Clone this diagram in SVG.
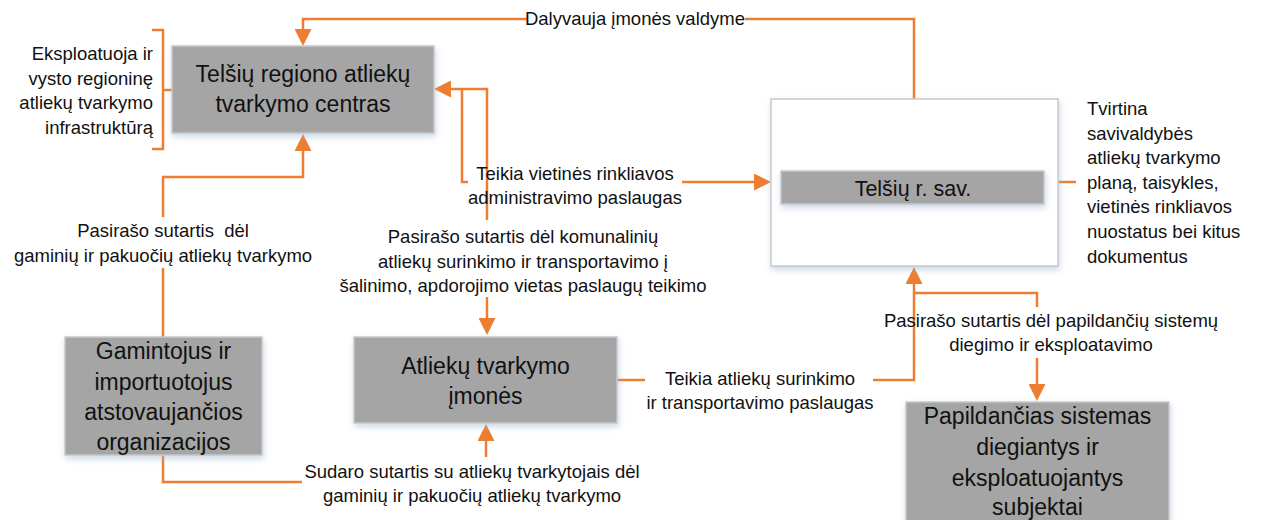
<svg xmlns="http://www.w3.org/2000/svg" width="1261" height="520" viewBox="0 0 1261 520">
<defs>
<style>
.box{fill:#a5a5a5;stroke:#c9c9c9;stroke-width:1.5;filter:url(#sh)}
.wbox{fill:#ffffff;stroke:#c9c9c9;stroke-width:1.5;filter:url(#sh)}
.t{font-family:"Liberation Sans",Arial,sans-serif;fill:#111;}
.big{font-size:23px;text-anchor:middle}
.sm{font-size:18.5px}
.mid{text-anchor:middle}
.end{text-anchor:end}
.c{fill:none;stroke:#ed7d31;stroke-width:2.5}
</style>
<filter id="sh" x="-10%" y="-10%" width="125%" height="135%">
<feDropShadow dx="1" dy="3" stdDeviation="3" flood-color="#9fb6d6" flood-opacity="0.55"/>
</filter>
<marker id="ar" markerUnits="userSpaceOnUse" markerWidth="18" markerHeight="17" refX="0" refY="8.5" orient="auto" viewBox="0 0 18 17">
<path d="M0,0 L17,8.5 L0,17 z" fill="#ed7d31"/>
</marker>
</defs>

<g id="connectors">
<path class="c" d="M914 99 V19 H745 M527 19 H303 V29" marker-end="url(#ar)"/>
<path class="c" d="M487 220 V89 H451" marker-end="url(#ar)"/>
<path class="c" d="M487 297 V318" marker-end="url(#ar)"/>
<path class="c" d="M462 89 V182 H468"/>
<path class="c" d="M682 182 H754" marker-end="url(#ar)"/>
<path class="c" d="M163 337 V268"/>
<path class="c" d="M163 217 V177 H303 V151" marker-end="url(#ar)"/>
<path class="c" d="M163 455 V482 H302"/>
<path class="c" d="M486 457 V441" marker-end="url(#ar)"/>
<path class="c" d="M617 380 H645"/>
<path class="c" d="M873 380 H914 V284" marker-end="url(#ar)"/>
<path class="c" d="M914 293 H1037 V307"/>
<path class="c" d="M1037 358 V384" marker-end="url(#ar)"/>
<path class="c" d="M152 30 H163 V149 H152 M163 90 H172"/>
<path class="c" d="M1058 182 H1076"/>
</g>

<g id="labels">
<text class="t sm mid" x="635" y="25">Dalyvauja įmonės valdyme</text>
<text class="t sm mid" x="575" y="180">Teikia vietinės rinkliavos</text>
<text class="t sm mid" x="575" y="204">administravimo paslaugas</text>
<text class="t sm mid" x="163" y="237" style="white-space:pre">Pasirašo sutartis  dėl</text>
<text class="t sm mid" x="163" y="261.5">gaminių ir pakuočių atliekų tvarkymo</text>
<text class="t sm mid" x="523" y="243">Pasirašo sutartis dėl komunalinių</text>
<text class="t sm mid" x="523" y="267.5">atliekų surinkimo ir transportavimo į</text>
<text class="t sm mid" x="523" y="292">šalinimo, apdorojimo vietas paslaugų teikimo</text>
<text class="t sm mid" x="472" y="478">Sudaro sutartis su atliekų tvarkytojais dėl</text>
<text class="t sm mid" x="472" y="502">gaminių ir pakuočių atliekų tvarkymo</text>
<text class="t sm mid" x="760" y="385">Teikia atliekų surinkimo</text>
<text class="t sm mid" x="760" y="408.5">ir transportavimo paslaugas</text>
<text class="t sm mid" x="1051" y="327">Pasirašo sutartis dėl papildančių sistemų</text>
<text class="t sm mid" x="1051" y="351">diegimo ir eksploatavimo</text>
<text class="t sm end" x="153" y="60">Eksploatuoja ir</text>
<text class="t sm end" x="153" y="84.5">vysto regioninę</text>
<text class="t sm end" x="153" y="109">atliekų tvarkymo</text>
<text class="t sm end" x="153" y="133.5">infrastruktūrą</text>
<text class="t sm" x="1087" y="115">Tvirtina</text>
<text class="t sm" x="1087" y="139.6">savivaldybės</text>
<text class="t sm" x="1087" y="164.2">atliekų tvarkymo</text>
<text class="t sm" x="1087" y="188.8">planą, taisykles,</text>
<text class="t sm" x="1087" y="213.4">vietinės rinkliavos</text>
<text class="t sm" x="1087" y="238">nuostatus bei kitus</text>
<text class="t sm" x="1087" y="262.6">dokumentus</text>
</g>

<g id="regional-centre">
<rect class="box" x="172" y="46" width="262" height="87"/>
<text class="t big" x="303" y="82">Telšių regiono atliekų</text>
<text class="t big" x="303" y="112">tvarkymo centras</text>
</g>

<g id="municipality">
<rect class="wbox" x="771" y="99" width="287" height="167"/>
<rect class="box" x="781" y="171" width="263" height="33"/>
<text class="t" x="913" y="195.5" font-size="21.5" text-anchor="middle">Telšių r. sav.</text>
</g>

<g id="companies">
<rect class="box" x="354" y="337" width="263" height="86"/>
<text class="t big" x="485.5" y="374">Atliekų tvarkymo</text>
<text class="t big" x="485.5" y="404">įmonės</text>
</g>

<g id="producers">
<rect class="box" x="65" y="337" width="197" height="118"/>
<text class="t big" x="163.5" y="359">Gamintojus ir</text>
<text class="t big" x="163.5" y="389.5">importuotojus</text>
<text class="t big" x="163.5" y="420">atstovaujančios</text>
<text class="t big" x="163.5" y="450">organizacijos</text>
</g>

<g id="supplementary">
<rect class="box" x="906" y="402" width="263" height="130"/>
<text class="t big" x="1037.5" y="424">Papildančias sistemas</text>
<text class="t big" x="1037.5" y="455">diegiantys ir</text>
<text class="t big" x="1037.5" y="485.5">eksploatuojantys</text>
<text class="t big" x="1037.5" y="515">subjektai</text>
</g>
</svg>
